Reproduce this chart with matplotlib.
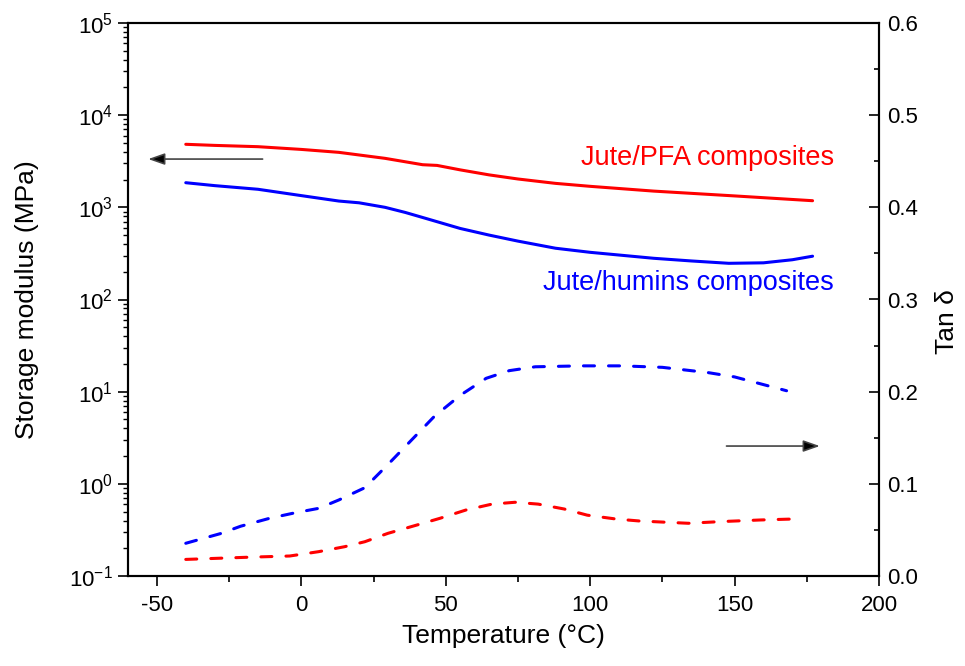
import matplotlib
matplotlib.use("Agg")
import matplotlib.pyplot as plt
from matplotlib.ticker import MultipleLocator, LogLocator, NullFormatter

plt.rcParams['font.family'] = ['Liberation Sans', 'DejaVu Sans']
plt.rcParams['mathtext.fontset'] = 'custom'
plt.rcParams['mathtext.rm'] = 'Liberation Sans'
plt.rcParams['mathtext.it'] = 'Liberation Sans:italic'
plt.rcParams['axes.unicode_minus'] = False

# Storage modulus (MPa)
T_pfa_E = [-40, -30, -15, 0, 13, 29, 42, 47, 55, 65, 75, 88, 100, 122, 150, 177]
E_pfa = [4830, 4700, 4550, 4250, 3950, 3400, 2900, 2850, 2550, 2250, 2030, 1820, 1690, 1500, 1330, 1180]

T_hum_E = [-40, -30, -15, 0, 13, 20, 29, 36, 43, 55, 65, 75, 88, 100, 122, 135, 148, 160, 170, 177]
E_hum = [1850, 1720, 1570, 1340, 1170, 1120, 1000, 880, 760, 590, 500, 430, 360, 325, 280, 262, 247, 250, 270, 295]

# Tan delta
T_hum_tan = [-40, -28, -21, -11, -2, 6, 13, 22, 30, 38, 46, 55, 64, 72, 81, 97, 111, 125, 141, 150, 168]
tan_hum = [0.0355, 0.046, 0.054, 0.0626, 0.0687, 0.0734, 0.0825, 0.0958, 0.121, 0.147, 0.173, 0.196,
           0.2145, 0.2228, 0.227, 0.228, 0.228, 0.2264, 0.2206, 0.216, 0.201]

T_pfa_tan = [-40, -19, -4, 6, 15, 22, 30, 40, 48, 57, 66, 74, 82, 91, 99, 109, 117, 134, 145, 159, 170]
tan_pfa = [0.018, 0.0203, 0.0217, 0.0264, 0.0318, 0.0372, 0.0463, 0.0553, 0.0626, 0.0716, 0.078, 0.080,
           0.078, 0.0727, 0.066, 0.0618, 0.0597, 0.0572, 0.059, 0.0608, 0.0618]

labels = ["Jute/PFA composites", "Jute/humins composites"]

fig = plt.figure(figsize=(9.65, 6.66), dpi=100)
ax = fig.add_axes([128/965, 1-576/666, (879-128)/965, (576-23)/666])
ax2 = ax.twinx()

red = '#ff0000'
blue = '#0000ff'

ax.plot(T_pfa_E, E_pfa, color=red, lw=2.2, solid_joinstyle='round', solid_capstyle='round')
ax.plot(T_hum_E, E_hum, color=blue, lw=2.2, solid_joinstyle='round', solid_capstyle='round')
ax2.plot(T_pfa_tan, tan_pfa, color=red, lw=2.2, dashes=(3.6, 4.6), dash_capstyle='round')
ax2.plot(T_hum_tan, tan_hum, color=blue, lw=2.2, dashes=(3.6, 4.6), dash_capstyle='round')

ax.set_yscale('log')
ax.set_xlim(-60, 200)
ax.set_ylim(0.1, 1e5)
ax2.set_ylim(0, 0.6)

ax.xaxis.set_major_locator(MultipleLocator(50))
ax.xaxis.set_minor_locator(MultipleLocator(25))
ax.yaxis.set_major_locator(LogLocator(base=10, numticks=10))
ax.yaxis.set_minor_locator(LogLocator(base=10, subs=range(2, 10), numticks=20))
ax.yaxis.set_minor_formatter(NullFormatter())
ax2.yaxis.set_major_locator(MultipleLocator(0.1))
ax2.yaxis.set_minor_locator(MultipleLocator(0.05))
ax2.yaxis.set_major_formatter(plt.FormatStrFormatter('%.1f'))

for a in (ax, ax2):
    for s in a.spines.values():
        s.set_linewidth(1.5)

ax.tick_params(axis='x', which='major', direction='out', length=7.5, width=1.2, labelsize=16, pad=6, top=False)
ax.tick_params(axis='x', which='minor', direction='out', length=4.5, width=1.2, top=False)
ax.tick_params(axis='y', which='major', direction='out', length=7.5, width=1.2, labelsize=16, right=False)
ax.tick_params(axis='y', which='minor', direction='out', length=3.8, width=1.0, right=False)
ax2.tick_params(axis='y', which='major', direction='in', length=7.5, width=1.2, labelsize=16, pad=6)
ax2.tick_params(axis='y', which='minor', direction='in', length=3.8, width=1.2)

ax.set_xlabel('Temperature (°C)', fontsize=19, labelpad=6)
ax.set_ylabel('Storage modulus (MPa)', fontsize=19)
ax.yaxis.set_label_coords(-0.118, 0.5)
ax2.set_ylabel('Tan δ', fontsize=19)
ax2.yaxis.set_label_coords(1.074, 0.46)

ax.text(184.5, 3430, labels[0], color=red, fontsize=19.5, ha='right', va='center')
ax.text(184.5, 151, labels[1], color=blue, fontsize=19.5, ha='right', va='center')

ax.annotate('', xy=(-53, 3340), xytext=(-13.4, 3340),
            arrowprops=dict(arrowstyle='-|>,head_length=1.0,head_width=0.35', color='#444444',
                            fc='black', lw=1.2, shrinkA=0, shrinkB=0))
ax2.annotate('', xy=(179.5, 0.141), xytext=(147.2, 0.141),
             arrowprops=dict(arrowstyle='-|>,head_length=1.0,head_width=0.35', color='#444444',
                             fc='black', lw=1.2, shrinkA=0, shrinkB=0))

fig.savefig('out.png', dpi=100)
